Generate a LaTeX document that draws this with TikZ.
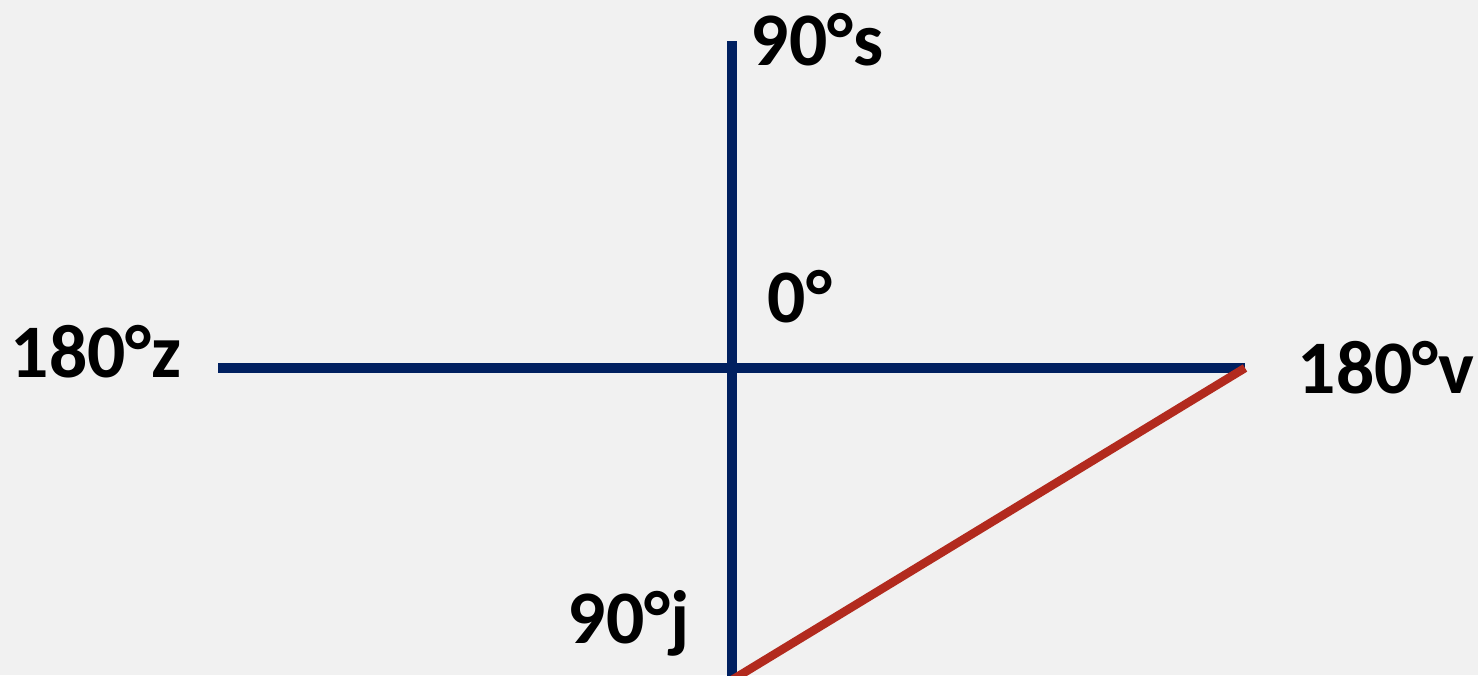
\documentclass[tikz,border=0pt]{standalone}
\usepackage{fontspec}
\setmainfont{Carlito}
\usetikzlibrary{positioning}
\definecolor{axisblue}{RGB}{0,32,96}
\definecolor{legred}{RGB}{178,42,30}
\definecolor{paper}{RGB}{241,241,241}
\tikzset{
  axis/.style={draw=axisblue, line width=0.1cm},
  leg/.style={draw=legred, line width=0.085cm},
  lbl/.style={inner sep=0pt, anchor=base west, font=\fontsize{21.5}{24}\selectfont\bfseries}
}
\begin{document}
\begin{tikzpicture}[x=0.01cm, y=-0.01cm]
\fill[paper] (0,0) rectangle (1478,675);
\useasboundingbox (0,0) rectangle (1478,675);
% ---- axis end points ----
\coordinate (o) at (732,368);
\coordinate (n) at (732,41);
\coordinate (s) at (732,680);
\coordinate (w) at (218,368);
\coordinate (e) at (1245,368);
% ---- labels ----
\node[lbl] (ls) at (750,65) {90°s};
\node[lbl] (lz) at (10,377) {180°z};
\node[lbl] (lv) at (1297,393) {180°v};
\node[lbl] (lj) at (567,643) {90°j};
\node[lbl] (lo) at (767,322) {0°};
% ---- axes ----
\draw[axis] (w) -- (e);
\draw[axis] (n) -- (s);
\draw[leg] (e) -- (s);
\end{tikzpicture}
\end{document}
